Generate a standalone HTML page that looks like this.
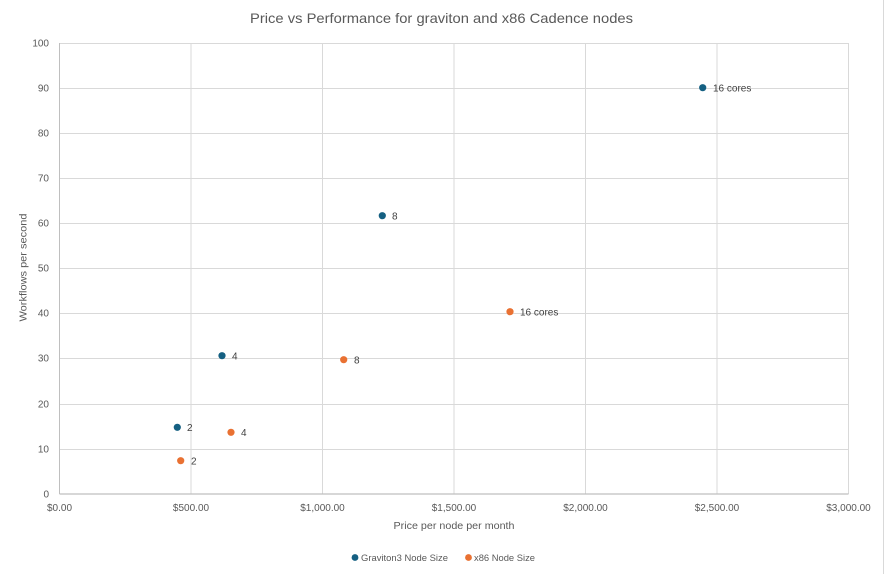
<!DOCTYPE html>
<html>
<head>
<meta charset="utf-8">
<style>
  html, body { margin:0; padding:0; background:#fff; }
  svg { display:block; font-family:"Liberation Sans", sans-serif; }
</style>
</head>
<body>
<svg width="885" height="574" viewBox="0 0 885 574" xmlns="http://www.w3.org/2000/svg">
  <rect x="0" y="0" width="885" height="574" fill="#ffffff"/>
  <!-- right chart border -->
  <line x1="883.5" y1="0" x2="883.5" y2="574" stroke="#d9d9d9" stroke-width="1"/>

  <!-- Title -->
  <text x="441.5" y="23" font-size="14" fill="#595959" text-anchor="middle" textLength="383" lengthAdjust="spacingAndGlyphs">Price vs Performance for graviton and x86 Cadence nodes</text>

  <!-- horizontal gridlines -->
  <g stroke="#d9d9d9" stroke-width="1">
    <line x1="59.5" y1="43.5" x2="848.5" y2="43.5"/>
    <line x1="59.5" y1="88.5" x2="848.5" y2="88.5"/>
    <line x1="59.5" y1="133.5" x2="848.5" y2="133.5"/>
    <line x1="59.5" y1="178.5" x2="848.5" y2="178.5"/>
    <line x1="59.5" y1="223.5" x2="848.5" y2="223.5"/>
    <line x1="59.5" y1="268.5" x2="848.5" y2="268.5"/>
    <line x1="59.5" y1="313.5" x2="848.5" y2="313.5"/>
    <line x1="59.5" y1="358.5" x2="848.5" y2="358.5"/>
    <line x1="59.5" y1="404.5" x2="848.5" y2="404.5"/>
    <line x1="59.5" y1="449.5" x2="848.5" y2="449.5"/>
    <!-- vertical gridlines -->
    <line x1="191" y1="43" x2="191" y2="494"/>
    <line x1="322.5" y1="43" x2="322.5" y2="494"/>
    <line x1="454" y1="43" x2="454" y2="494"/>
    <line x1="585.5" y1="43" x2="585.5" y2="494"/>
    <line x1="717" y1="43" x2="717" y2="494"/>
    <line x1="848.5" y1="43" x2="848.5" y2="494"/>
  </g>
  <!-- axes -->
  <line x1="59.5" y1="43" x2="59.5" y2="494" stroke="#bfbfbf" stroke-width="1"/>
  <line x1="59.5" y1="494" x2="848.5" y2="494" stroke="#bfbfbf" stroke-width="1.2"/>

  <!-- Y tick labels -->
  <g font-size="10" fill="#595959" text-anchor="end">
    <text x="49" y="46.5">100</text>
    <text x="49" y="91.5">90</text>
    <text x="49" y="136.5">80</text>
    <text x="49" y="181.5">70</text>
    <text x="49" y="226.5">60</text>
    <text x="49" y="271.5">50</text>
    <text x="49" y="316.5">40</text>
    <text x="49" y="361.5">30</text>
    <text x="49" y="407.5">20</text>
    <text x="49" y="452.5">10</text>
    <text x="49" y="497.5">0</text>
  </g>

  <!-- X tick labels -->
  <g font-size="10" fill="#595959" text-anchor="middle">
    <text x="59.5" y="511">$0.00</text>
    <text x="191" y="511">$500.00</text>
    <text x="322.5" y="511">$1,000.00</text>
    <text x="454" y="511">$1,500.00</text>
    <text x="585.5" y="511">$2,000.00</text>
    <text x="717" y="511">$2,500.00</text>
    <text x="848.5" y="511">$3,000.00</text>
  </g>

  <!-- Axis titles -->
  <text x="454" y="529" font-size="10" fill="#595959" text-anchor="middle" textLength="121" lengthAdjust="spacingAndGlyphs">Price per node per month</text>
  <text x="0" y="0" font-size="10" fill="#595959" text-anchor="middle" textLength="108" lengthAdjust="spacingAndGlyphs" transform="translate(26.5,267.5) rotate(-90)">Workflows per second</text>

  <!-- Graviton series -->
  <g fill="#156082">
    <circle cx="177.3" cy="427.3" r="3.6"/>
    <circle cx="222" cy="355.7" r="3.6"/>
    <circle cx="382.3" cy="215.7" r="3.6"/>
    <circle cx="702.7" cy="87.7" r="3.6"/>
  </g>
  <!-- x86 series -->
  <g fill="#e97132">
    <circle cx="180.7" cy="460.7" r="3.6"/>
    <circle cx="231" cy="432.3" r="3.6"/>
    <circle cx="343.7" cy="359.7" r="3.6"/>
    <circle cx="510" cy="311.7" r="3.6"/>
  </g>

  <!-- Data labels -->
  <g font-size="10" fill="#404040">
    <text x="187" y="431">2</text>
    <text x="232" y="359.5">4</text>
    <text x="392" y="219.5">8</text>
    <text x="713" y="91.5">16 cores</text>
    <text x="191" y="464.5">2</text>
    <text x="241" y="436">4</text>
    <text x="354" y="363.5">8</text>
    <text x="520" y="315.5">16 cores</text>
  </g>

  <!-- Legend -->
  <circle cx="355" cy="557.5" r="3.4" fill="#156082"/>
  <text x="361" y="561" font-size="9.5" fill="#595959" textLength="87" lengthAdjust="spacingAndGlyphs">Graviton3 Node Size</text>
  <circle cx="468.5" cy="557.5" r="3.4" fill="#e97132"/>
  <text x="474" y="561" font-size="9.5" fill="#595959" textLength="61" lengthAdjust="spacingAndGlyphs">x86 Node Size</text>
</svg>
</body>
</html>
